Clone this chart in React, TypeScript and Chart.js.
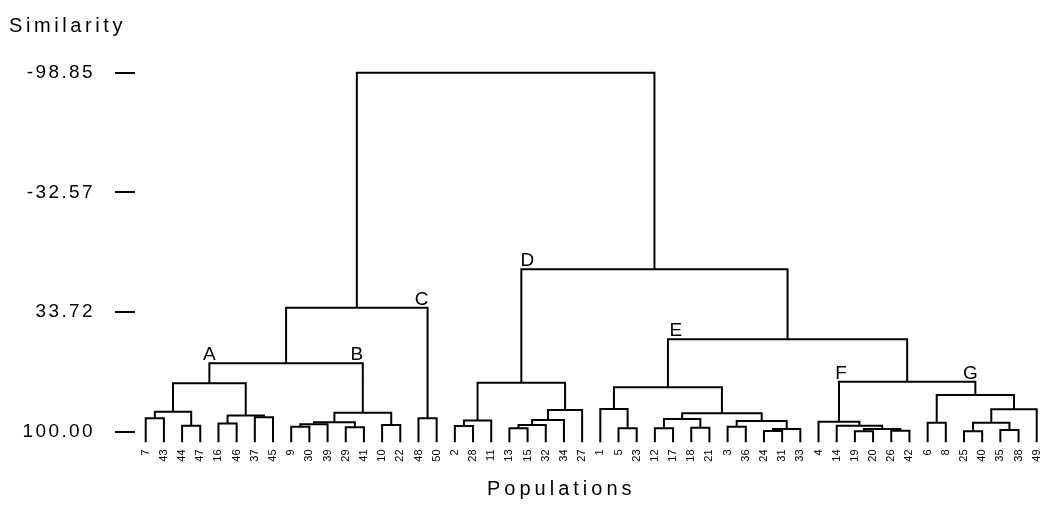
import React, { useEffect, useRef } from 'react';
import { Chart, registerables } from 'chart.js';

Chart.register(...registerables);

// Leaf (population) order along the x axis
const leafLabels: string[] = [
  '7', '43', '44', '47', '16', '46', '37', '45',
  '9', '30', '39', '29', '41', '10', '22',
  '48', '50',
  '2', '28', '11', '13', '15', '32', '34', '27',
  '1', '5', '23', '12', '17', '18', '21', '3', '36', '24', '31', '33',
  '4', '14', '19', '20', '26', '42',
  '6', '8', '25', '40', '35', '38', '49',
];

// Linkage table: node ids < 50 are leaves, id 50 + j is merge j
const mergeLeft: number[] = [
  0, 2, 50, 4, 6, 53, 52, 8, 57, 11,
  58, 13, 60, 56, 15, 63, 17, 66, 20, 68,
  69, 70, 67, 26, 25, 28, 30, 75, 32, 34,
  79, 78, 77, 74, 39, 41, 84, 38, 37, 43,
  45, 47, 90, 92, 89, 88, 83, 72, 65,
];
const mergeRight: number[] = [
  1, 3, 51, 5, 7, 54, 55, 9, 10, 12,
  59, 14, 61, 62, 16, 64, 18, 19, 21, 22,
  23, 24, 71, 27, 73, 29, 31, 76, 33, 35,
  36, 80, 81, 82, 40, 42, 85, 86, 87, 44,
  46, 48, 91, 49, 93, 94, 95, 96, 97,
];
const mergeHeight: number[] = [
  92.7, 96.8, 89.0, 95.5, 92.1, 91.2, 73.3, 97.3, 96.0, 97.7,
  94.9, 96.4, 89.6, 62.2, 92.7, 31.4, 97.0, 93.9, 98.2, 96.4,
  93.6, 88.1, 73.0, 98.2, 87.5, 98.2, 97.9, 93.1, 97.3, 99.7,
  98.6, 94.2, 89.9, 75.5, 99.9, 99.6, 98.6, 96.8, 94.6, 95.1,
  99.8, 99.2, 95.1, 87.7, 79.8, 72.4, 48.9, 10.1, -98.85,
];
const leafBase = 106; // where the leaf stubs end

// Named groups
const clusterLabels: string[] = ['A', 'B', 'C', 'D', 'E', 'F', 'G'];
const clusterNodes: number[] = [56, 62, 64, 72, 83, 88, 94];

// Y axis ticks
const yTickValues: number[] = [-98.85, -32.57, 33.72, 100.0];
const yTickLabels: string[] = ['-98.85', '-32.57', '33.72', '100.00'];

// ---- styles (kept apart from the data) ----
const FAMILY = "'Liberation Sans', Arial, Helvetica, sans-serif";
const labelDx: number[] = [0, -6, -6, 6, 8, 2, -5];

export default function App() {
  const ref = useRef<HTMLCanvasElement>(null);

  useEffect(() => {
    const canvas = ref.current;
    if (!canvas) return;

    const nLeaves = leafLabels.length;
    const nodeX: number[] = [];
    const nodeH: number[] = [];
    const parentH: number[] = [];
    for (let i = 0; i < nLeaves; i++) {
      nodeX[i] = i;
      nodeH[i] = leafBase;
    }
    mergeLeft.forEach((l, j) => {
      const r = mergeRight[j];
      const id = nLeaves + j;
      nodeX[id] = (nodeX[l] + nodeX[r]) / 2;
      nodeH[id] = mergeHeight[j];
      parentH[l] = mergeHeight[j];
      parentH[r] = mergeHeight[j];
    });

    const datasets = mergeLeft.map((l, j) => {
      const r = mergeRight[j];
      const h = mergeHeight[j];
      return {
        data: [
          { x: nodeX[l], y: nodeH[l] },
          { x: nodeX[l], y: h },
          { x: nodeX[r], y: h },
          { x: nodeX[r], y: nodeH[r] },
        ],
        showLine: true,
        borderColor: '#000',
        backgroundColor: '#000',
        borderWidth: 2,
        pointRadius: 0,
        tension: 0,
        fill: false,
        clip: false as any,
      };
    });

    const textPlugin = {
      id: 'dendroTexts',
      beforeDraw(chart: any) {
        (chart.ctx as any).letterSpacing = '2.4px';
      },
      beforeDatasetsDraw(chart: any) {
        (chart.ctx as any).letterSpacing = '0px';
      },
      afterDraw(chart: any) {
        const ctx = chart.ctx as any;
        const xs = chart.scales.x;
        const ys = chart.scales.y;
        ctx.save();
        ctx.fillStyle = '#000';
        ctx.letterSpacing = '0px';
        ctx.font = `19px ${FAMILY}`;
        ctx.textAlign = 'center';
        ctx.textBaseline = 'alphabetic';
        clusterLabels.forEach((lab, k) => {
          const node = clusterNodes[k];
          const px = xs.getPixelForValue(nodeX[node]) + labelDx[k];
          const py = ys.getPixelForValue(parentH[node]) - 3;
          ctx.fillText(lab, px, py);
        });
        ctx.textAlign = 'left';
        ctx.font = `20px ${FAMILY}`;
        ctx.letterSpacing = '3.6px';
        ctx.fillText('Similarity', 9, 32);
        ctx.letterSpacing = '4px';
        ctx.fillText('Populations', 487, 495);
        ctx.restore();
        ctx.letterSpacing = '0px';
      },
    };

    const chart = new Chart(canvas, {
      type: 'scatter',
      data: { datasets: datasets as any },
      options: {
        responsive: false,
        animation: false,
        devicePixelRatio: 1,
        events: [],
        layout: { padding: { top: 72.7, left: 0, right: 2, bottom: 0 } },
        plugins: {
          legend: { display: false },
          tooltip: { enabled: false },
          title: { display: false },
        },
        scales: {
          x: {
            type: 'linear',
            position: 'bottom',
            min: -0.59,
            max: 49.18,
            afterBuildTicks: (s: any) => {
              s.ticks = leafLabels.map((_, i) => ({ value: i }));
            },
            afterFit: (s: any) => {
              s.height = 86.5;
              s.paddingLeft = 0;
              s.paddingRight = 0;
            },
            grid: { display: false },
            border: { display: false },
            ticks: {
              autoSkip: false,
              maxRotation: 90,
              minRotation: 90,
              padding: 10,
              color: '#000',
              z: 1,
              font: { size: 11, family: FAMILY },
              callback: (v: any) => leafLabels[Math.round(Number(v))] ?? '',
            },
          },
          y: {
            type: 'linear',
            reverse: true,
            min: -98.85,
            max: 100,
            afterBuildTicks: (s: any) => {
              s.ticks = yTickValues.map((v) => ({ value: v }));
            },
            afterFit: (s: any) => {
              s.width = 135;
            },
            grid: {
              drawOnChartArea: false,
              drawTicks: true,
              tickLength: 20,
              color: '#000',
              lineWidth: 2,
            },
            border: { display: false },
            ticks: {
              padding: 20,
              color: '#000',
              font: { size: 19, family: FAMILY },
              callback: (_v: any, i: number) => yTickLabels[i],
            },
          },
        },
      } as any,
      plugins: [textPlugin],
    });

    return () => chart.destroy();
  }, []);

  return (
    <div style={{ position: 'absolute', left: 0, top: 0, width: 1042, height: 518, background: '#fff' }}>
      <canvas ref={ref} width={1042} height={518} style={{ display: 'block' }} />
    </div>
  );
}
